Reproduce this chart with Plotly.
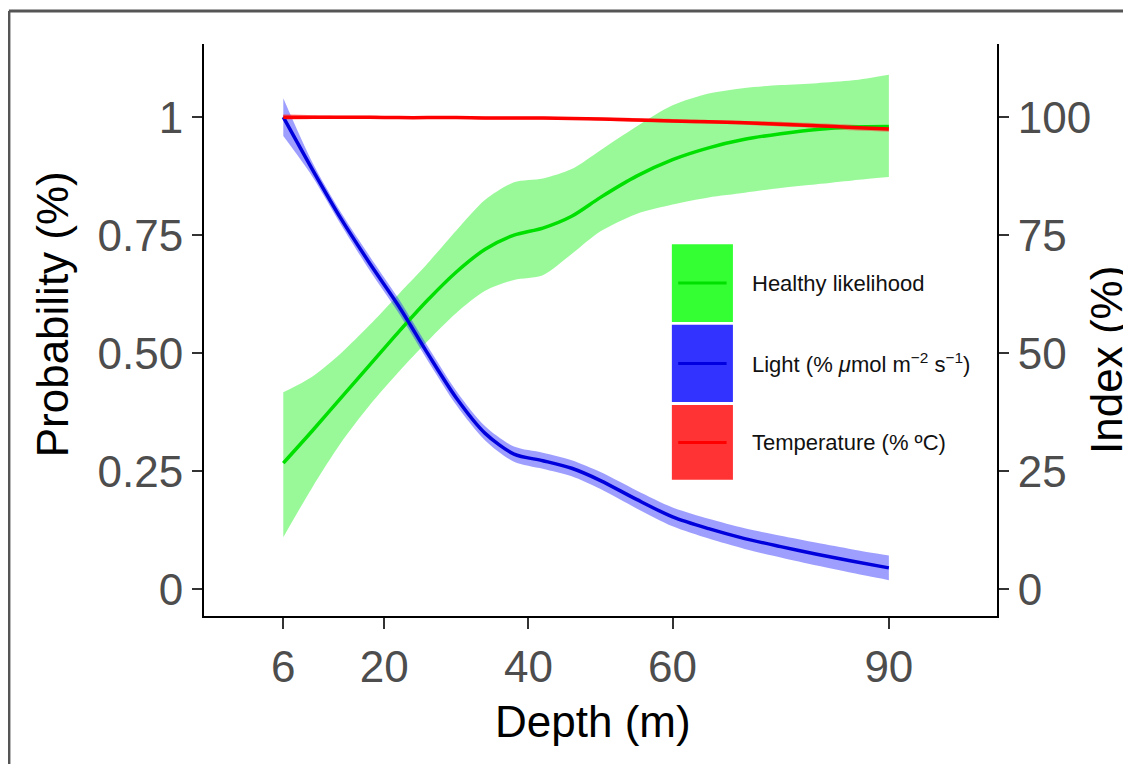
import plotly.graph_objects as go

# Depth (m) at which the smoothed curves were read
depth = [6, 10, 14, 18, 22, 26, 30, 34, 38, 42, 46, 50, 55, 60, 65, 70, 75, 80, 85, 90]

# Healthy likelihood (probability) with confidence band
healthy = [0.267, 0.335, 0.405, 0.475, 0.545, 0.612, 0.672, 0.72, 0.75, 0.765,
           0.79, 0.83, 0.875, 0.91, 0.935, 0.953, 0.965, 0.974, 0.979, 0.98]
healthy_hi = [0.417, 0.45, 0.50, 0.56, 0.625, 0.69, 0.76, 0.825, 0.862, 0.87,
              0.89, 0.93, 0.98, 1.025, 1.05, 1.062, 1.068, 1.072, 1.078, 1.09]
healthy_lo = [0.11, 0.215, 0.31, 0.39, 0.46, 0.525, 0.585, 0.632, 0.655, 0.665,
              0.71, 0.758, 0.795, 0.815, 0.83, 0.84, 0.85, 0.858, 0.866, 0.873]

# Light index (% of surface) with band
light = [1.0, 0.89, 0.785, 0.69, 0.6, 0.5, 0.405, 0.33, 0.286, 0.272,
         0.256, 0.23, 0.19, 0.153, 0.128, 0.107, 0.09, 0.074, 0.059, 0.045]
light_hi = [1.04, 0.905, 0.798, 0.705, 0.615, 0.515, 0.42, 0.345, 0.302, 0.289,
            0.273, 0.248, 0.209, 0.173, 0.149, 0.129, 0.113, 0.098, 0.084, 0.071]
light_lo = [0.96, 0.875, 0.772, 0.675, 0.585, 0.485, 0.39, 0.315, 0.27, 0.255,
            0.239, 0.212, 0.171, 0.133, 0.107, 0.085, 0.067, 0.05, 0.034, 0.019]

# Temperature index (% of surface) with band
temp = [1.0, 1.0, 1.0, 1.0, 0.999, 0.999, 0.999, 0.998, 0.998, 0.998,
        0.997, 0.996, 0.994, 0.992, 0.99, 0.988, 0.985, 0.982, 0.978, 0.975]
temp_hi = [1.006, 1.004, 1.003, 1.003, 1.002, 1.002, 1.002, 1.001, 1.001, 1.001,
           1.0, 0.999, 0.998, 0.996, 0.994, 0.992, 0.99, 0.987, 0.984, 0.981]
temp_lo = [0.994, 0.996, 0.997, 0.997, 0.996, 0.996, 0.996, 0.995, 0.995, 0.995,
           0.994, 0.993, 0.99, 0.988, 0.986, 0.984, 0.98, 0.977, 0.972, 0.969]

x_ticks = [6, 20, 40, 60, 90]
y_ticks = [0, 0.25, 0.5, 0.75, 1]
y_ticktext = ["0", "0.25", "0.50", "0.75", "1"]
y2_ticks = [0, 25, 50, 75, 100]

legend_labels = ["Healthy likelihood",
                 "Light (% <i>\u03bc</i>mol m<sup>\u22122</sup> s<sup>\u22121</sup>)",
                 "Temperature (% \u00baC)"]
legend_fill = ["#33FF33", "#3333FF", "#FF3333"]
legend_line = ["#00E000", "#0000E0", "#FF0000"]

series = [
    (healthy, healthy_lo, healthy_hi, "#00E000", "rgba(0,240,0,0.4)"),
    (light, light_lo, light_hi, "#0000DD", "rgba(40,40,255,0.45)"),
    (temp, temp_lo, temp_hi, "#FF0000", "rgba(255,40,40,0.45)"),
]

FONT = "Liberation Sans, Arial, Helvetica, sans-serif"
spl = dict(width=0, shape="spline", smoothing=0.8)

fig = go.Figure()
for mid, lo, hi, lc, fc in series:
    # lower edge, then upper edge filled down to it
    fig.add_trace(go.Scatter(x=depth, y=lo, mode="lines", line=spl,
                             hoverinfo="skip", showlegend=False))
    fig.add_trace(go.Scatter(x=depth, y=hi, mode="lines", line=spl, fill="tonexty",
                             fillcolor=fc, hoverinfo="skip", showlegend=False))
for mid, lo, hi, lc, fc in series:
    fig.add_trace(go.Scatter(x=depth, y=mid, mode="lines",
                             line=dict(color=lc, width=3.5, shape="spline", smoothing=0.8),
                             showlegend=False))

# invisible trace to bring in the right-hand axis
fig.add_trace(go.Scatter(x=[depth[0]], y=[y2_ticks[-1]], yaxis="y2", mode="markers",
                         marker=dict(opacity=0), showlegend=False, hoverinfo="skip"))

yr = [-0.057, 1.155]
tick_font = dict(size=44, color="#4D4D4D")
fig.update_layout(
    width=1131, height=764,
    # the page adds an 8px body margin, so the margins are shifted by that
    margin=dict(l=196, r=142, t=36, b=156),
    paper_bgcolor="white", plot_bgcolor="white",
    font=dict(family=FONT),
    xaxis=dict(range=[-5, 105], tickvals=x_ticks, showgrid=False, zeroline=False,
               showline=True, linecolor="black", linewidth=2, mirror=False,
               ticks="outside", ticklen=11, tickwidth=2, tickcolor="#333",
               tickfont=tick_font),
    yaxis=dict(range=yr, tickvals=y_ticks, ticktext=y_ticktext, showgrid=False, zeroline=False,
               showline=True, linecolor="black", linewidth=2,
               ticks="outside", ticklen=10, tickwidth=2, tickcolor="#333",
               tickfont=tick_font),
    yaxis2=dict(range=[v * 100 for v in yr], tickvals=y2_ticks, overlaying="y", side="right",
                showgrid=False, zeroline=False, showline=True, linecolor="black", linewidth=2,
                ticks="outside", ticklen=10, tickwidth=2, tickcolor="#333",
                tickfont=tick_font),
)

# axis titles
fig.add_annotation(text="Depth (m)", xref="paper", yref="paper", x=0.49, y=-0.184,
                   xanchor="center", yanchor="middle",
                   showarrow=False, font=dict(size=44, color="black"))
fig.add_annotation(text="Probability (%)", xref="paper", yref="paper", x=-0.19, y=0.528,
                   xanchor="center", yanchor="middle",
                   textangle=-90, showarrow=False, font=dict(size=44, color="black"))
fig.add_annotation(text="Index (%)", xref="paper", yref="paper", x=1.139, y=0.448,
                   xanchor="center", yanchor="middle",
                   textangle=-90, showarrow=False, font=dict(size=44, color="black"))

# legend drawn by hand
box_top = [0.650, 0.509, 0.369]
box_bot = [0.514, 0.374, 0.238]
for i, lab in enumerate(legend_labels):
    yc = (box_top[i] + box_bot[i]) / 2
    fig.add_shape(type="rect", xref="paper", yref="paper", x0=0.590, x1=0.667,
                  y0=box_bot[i], y1=box_top[i], fillcolor=legend_fill[i], line=dict(width=0))
    fig.add_shape(type="line", xref="paper", yref="paper", x0=0.598, x1=0.659,
                  y0=yc, y1=yc, line=dict(color=legend_line[i], width=3))
    fig.add_annotation(text=lab, xref="paper", yref="paper", x=0.689, y=yc,
                       xanchor="left", yanchor="middle", showarrow=False,
                       font=dict(size=22, color="#111"))

# outer frame (top and left edges)
fig.add_shape(type="line", xref="paper", yref="paper", x0=-0.246, x1=1.17, y0=1.0577, y1=1.0577,
              line=dict(color="#555", width=3))
fig.add_shape(type="line", xref="paper", yref="paper", x0=-0.246, x1=-0.246, y0=1.0577, y1=-0.26,
              line=dict(color="#555", width=3))

fig.write_html("out.html")
